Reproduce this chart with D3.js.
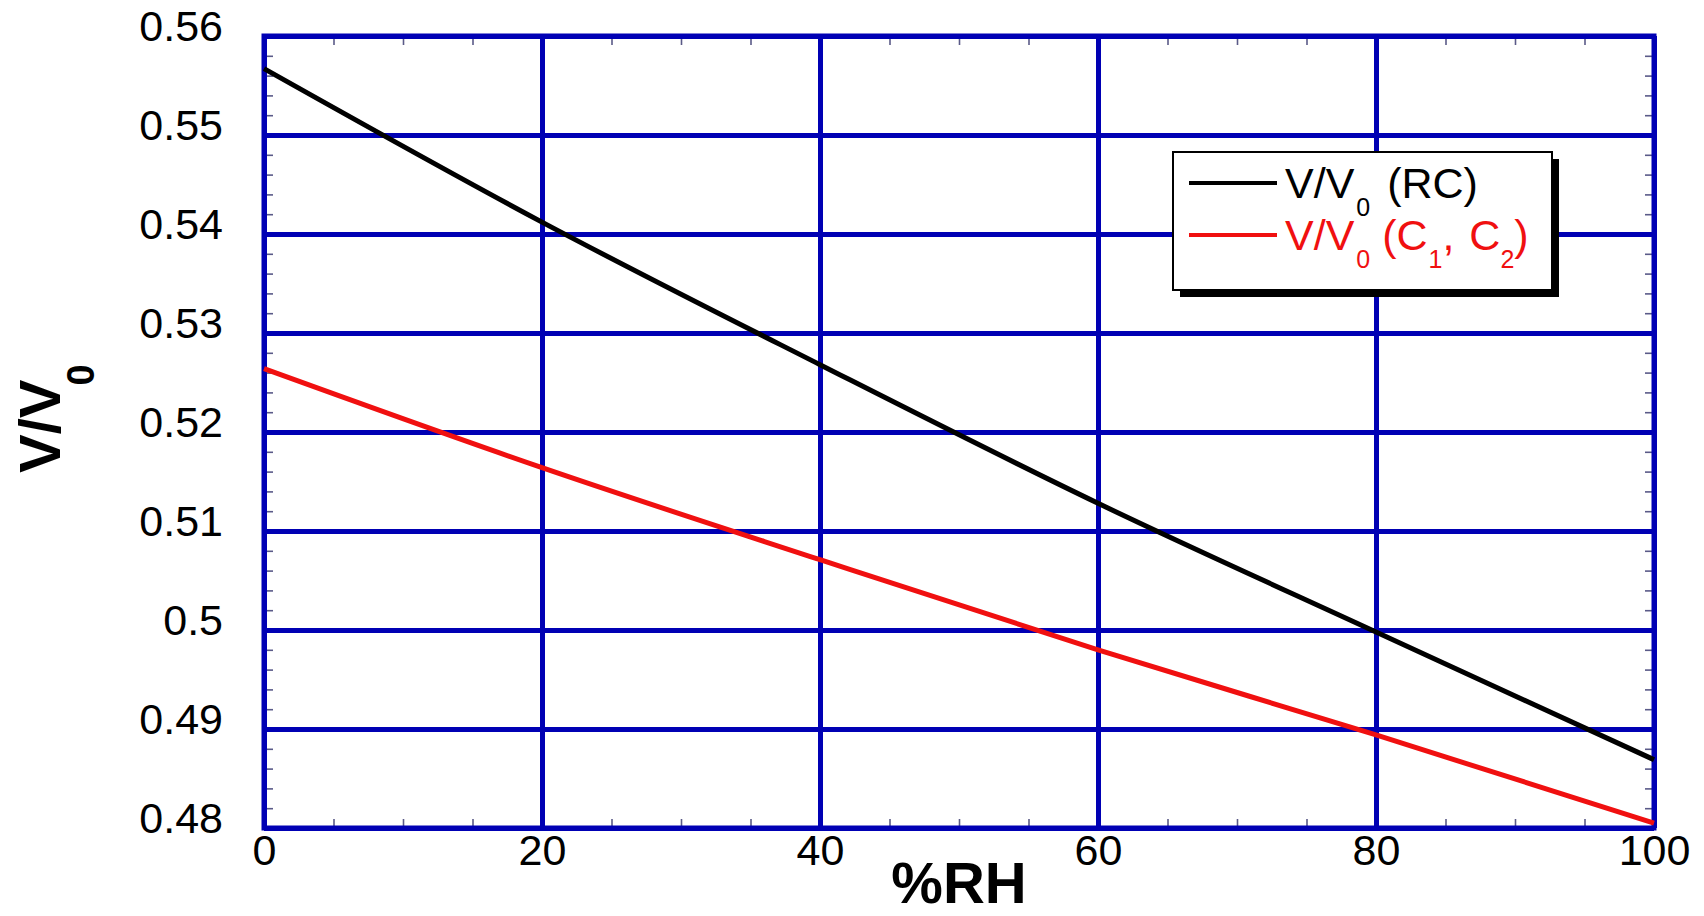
<!DOCTYPE html>
<html>
<head>
<meta charset="utf-8">
<script src="https://cdn.jsdelivr.net/npm/d3@7"></script>
<style>
  html, body { margin: 0; padding: 0; background: #fff; }
  svg { display: block; }
  text { font-family: "Liberation Sans", Arial, Helvetica, sans-serif; }
</style>
</head>
<body>
<svg id="chart" width="1704" height="916"></svg>
<script>
// ---- data ----
const rh = [0, 20, 40, 60, 80, 100];
const vRC = [0.5567, 0.5412, 0.5268, 0.5128, 0.4998, 0.4869];
const vC1C2 = [0.5264, 0.5164, 0.5071, 0.4980, 0.4894, 0.4805];
const xTicks = [0, 20, 40, 60, 80, 100];
const xTickLabels = ["0", "20", "40", "60", "80", "100"];
const yTicks = [0.48, 0.49, 0.50, 0.51, 0.52, 0.53, 0.54, 0.55, 0.56];
const yTickLabels = ["0.48", "0.49", "0.5", "0.51", "0.52", "0.53", "0.54", "0.55", "0.56"];
const xMinor = [5, 10, 15, 25, 30, 35, 45, 50, 55, 65, 70, 75, 85, 90, 95];
const yMinor = [];
for (let i = 0; i < 8; i++) for (let j = 1; j < 5; j++) yMinor.push(+(0.48 + i * 0.01 + j * 0.002).toFixed(4));
const seriesNames = ["RC", "C1C2"];

// ---- layout ----
const svg = d3.select("#chart");
const L = 264, T = 36, W = 1390, H = 792;
const blue = "#0000b4";
const g = svg.append("g").attr("transform", `translate(${L},${T})`);

const x = d3.scaleLinear().domain([0, 100]).range([0, W]);
const y = d3.scaleLinear().domain([0.48, 0.56]).range([H, 0]);

// minor ticks (all four sides, inward)
const minorStyle = sel => {
  sel.select(".domain").remove();
  sel.selectAll("line").attr("stroke", "#5a5a88").attr("stroke-width", 1.6);
  sel.selectAll("text").remove();
};
g.append("g").attr("transform", `translate(0,${H})`)
  .call(d3.axisBottom(x).tickValues(xMinor).tickSize(-9)).call(minorStyle);
g.append("g")
  .call(d3.axisTop(x).tickValues(xMinor).tickSize(-9)).call(minorStyle);
g.append("g")
  .call(d3.axisLeft(y).tickValues(yMinor).tickSize(-9)).call(minorStyle);
g.append("g").attr("transform", `translate(${W},0)`)
  .call(d3.axisRight(y).tickValues(yMinor).tickSize(-9)).call(minorStyle);

// major grid
const gridStyle = sel => {
  sel.select(".domain").remove();
  sel.selectAll("line").attr("stroke", blue).attr("stroke-width", 5);
  sel.selectAll("text").remove();
};
g.append("g").attr("transform", `translate(0,${H})`)
  .call(d3.axisBottom(x).tickValues(xTicks).tickSize(-H)).call(gridStyle);
g.append("g")
  .call(d3.axisLeft(y).tickValues(yTicks).tickSize(-W)).call(gridStyle);

// frame
g.append("rect").attr("x", 0).attr("y", 0).attr("width", W).attr("height", H)
  .attr("fill", "none").attr("stroke", blue).attr("stroke-width", 5);

// data lines
const line = d3.line().x(d => x(d[0])).y(d => y(d[1])).curve(d3.curveMonotoneX);
const colors = { RC: "#000000", C1C2: "#f01010" };
const dataBy = { RC: vRC, C1C2: vC1C2 };
seriesNames.forEach(n => {
  g.append("path")
    .datum(rh.map((r, i) => [r, dataBy[n][i]]))
    .attr("fill", "none").attr("stroke", colors[n]).attr("stroke-width", 5)
    .attr("d", line);
});

// tick labels
const xl = g.append("g").attr("transform", `translate(0,${H})`)
  .call(d3.axisBottom(x).tickValues(xTicks).tickSize(0)
    .tickFormat((d, i) => xTickLabels[i]));
xl.select(".domain").remove();
xl.selectAll("text").attr("y", 0).attr("dy", null)
  .attr("transform", "translate(0,37)")
  .attr("font-size", 43).attr("fill", "#000")
  .attr("font-family", "'Liberation Sans', Arial, sans-serif");

const yl = g.append("g")
  .call(d3.axisLeft(y).tickValues(yTicks).tickSize(0)
    .tickFormat((d, i) => yTickLabels[i]));
yl.select(".domain").remove();
yl.selectAll("text").attr("x", -41).attr("dy", null).attr("y", 4.5)
  .attr("text-anchor", "end")
  .attr("font-size", 43).attr("fill", "#000")
  .attr("font-family", "'Liberation Sans', Arial, sans-serif");

// axis titles
svg.append("text").attr("x", L + W / 2).attr("y", 903)
  .attr("text-anchor", "middle").attr("font-size", 58).attr("font-weight", "bold")
  .text("%RH");

const yt = svg.append("text")
  .attr("transform", "translate(60,473) rotate(-90)")
  .attr("text-anchor", "start").attr("font-size", 58).attr("font-weight", "bold");
yt.append("tspan").text("V/V");
yt.append("tspan").attr("font-size", 38).attr("dy", 34).attr("dx", -6).text("0");

// legend
const lg = svg.append("g");
lg.append("rect").attr("x", 1180).attr("y", 159).attr("width", 379).attr("height", 138)
  .attr("fill", "#000");
lg.append("rect").attr("x", 1173).attr("y", 152).attr("width", 379).attr("height", 138)
  .attr("fill", "#fff").attr("stroke", "#000").attr("stroke-width", 2);

// parts: [text, isSubscript, dx]
const legendItems = [
  { key: "RC", y: 198, parts: [["V/V", 0, 0], ["0", 1, 2], [" (RC)", 0, 5]] },
  { key: "C1C2", y: 250, parts: [["V/V", 0, 0], ["0", 1, 2], [" (C", 0, 0], ["1", 1, 1], [",", 0, 0], [" C", 0, 3], ["2", 1, 0], [")", 0, 0]] }
];
legendItems.forEach(it => {
  lg.append("line").attr("x1", 1189).attr("x2", 1277)
    .attr("y1", it.y - 15).attr("y2", it.y - 15)
    .attr("stroke", colors[it.key]).attr("stroke-width", 4);
  const t = lg.append("text").attr("x", 1285).attr("y", it.y)
    .attr("font-size", 43).attr("fill", colors[it.key]);
  let sub = false;
  it.parts.forEach(p => {
    const ts = t.append("tspan").text(p[0]);
    if (p[2]) ts.attr("dx", p[2]);
    if (p[1]) {
      ts.attr("font-size", 25);
      if (!sub) { ts.attr("dy", 18); sub = true; }
    } else if (sub) { ts.attr("dy", -18); sub = false; }
  });
});
</script>
</body>
</html>
